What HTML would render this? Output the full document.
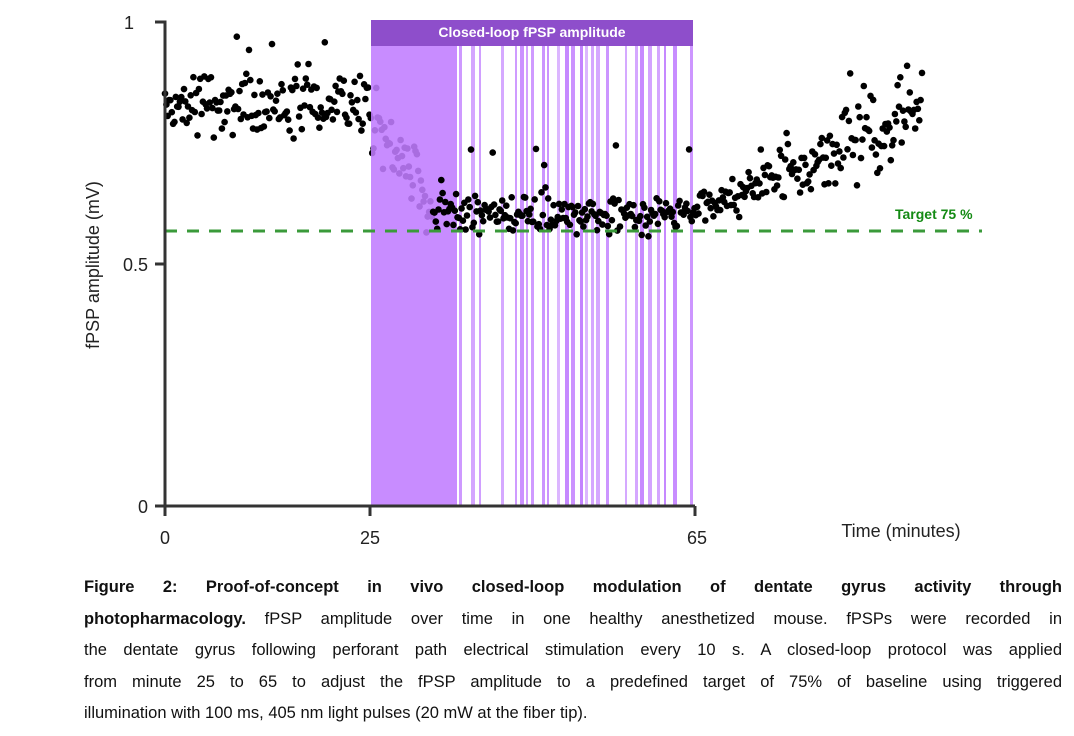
<!DOCTYPE html>
<html><head><meta charset="utf-8"><style>
body{margin:0;background:#fff;width:1074px;height:736px;overflow:hidden;position:relative;font-family:"Liberation Sans",sans-serif}
.cap{position:absolute;left:84px;width:978px;font-size:16.5px;color:#111}
.cap div{height:31.5px;line-height:31.5px;text-align:justify;text-align-last:justify;white-space:nowrap}
.cap div.l{text-align-last:left}
</style></head><body>
<svg id="s" width="1074" height="560" style="position:absolute;left:0;top:0" font-family="Liberation Sans, sans-serif"></svg>
<div class="cap" style="top:572px">
<div style="white-space:normal"><b>Figure 2: Proof-of-concept in vivo closed-loop modulation of dentate gyrus activity through</b></div>
<div><b>photopharmacology.</b> fPSP amplitude over time in one healthy anesthetized mouse. fPSPs were recorded in</div>
<div>the dentate gyrus following perforant path electrical stimulation every 10 s. A closed-loop protocol was applied</div>
<div>from minute 25 to 65 to adjust the fPSP amplitude to a predefined target of 75% of baseline using triggered</div>
<div class="l">illumination with 100 ms, 405 nm light pulses (20 mW at the fiber tip).</div>
</div>
<script>
var s=document.getElementById('s'),h='';
var seed=7;function r(){seed=(seed*16807)%2147483647;return seed/2147483647;}
function g(){return (r()+r()+r()-1.5)*1.2;}
function X(t){return 165+t*8.125;}
var pre='',post='';
for(var i=0;i<560;i++){var t=i/6,y;
 if(t<25)y=102+g()*24+(r()<0.03?-30:0);
 else if(t<33)y=115+(t-25)*11+g()*28;
 else if(t<65)y=215+g()*14+(r()<0.1?-70*r():0);
 else y=208-(t-65)*3.2+g()*(14+(t-65)*0.8)+(r()<0.05?-45:0);
 var c='<circle cx="'+X(t).toFixed(1)+'" cy="'+y.toFixed(1)+'" r="3.3" fill="#000"/>';
 if(t<33)pre+=c;else post+=c;}
h+=pre;
h+='<rect x="371" y="46" width="86" height="460" fill="#c07cff" opacity="0.88"/>';
var x=459;
while(x<690){var w=2+Math.floor(r()*3);h+='<rect x="'+x+'" y="46" width="'+w+'" height="460" fill="#c07cff" opacity="'+(0.55+r()*0.4).toFixed(2)+'"/>';x+=w+2+Math.floor(r()*r()*20);}
h+='<rect x="690" y="46" width="3" height="460" fill="#c07cff" opacity="0.8"/>';
h+='<rect x="371" y="20" width="322" height="26" fill="#8e4ecb"/>';
h+='<text x="532" y="37" fill="#fff" font-size="14" font-weight="bold" text-anchor="middle">Closed-loop fPSP amplitude</text>';
h+=post;
h+='<line x1="165" y1="231" x2="982" y2="231" stroke="#3a9a3a" stroke-width="3" stroke-dasharray="12,10"/>';
h+='<text x="895" y="219" fill="#138a13" font-size="14" font-weight="bold">Target 75 %</text>';
h+='<path d="M155 22H165V506M155 264H165M155 506H695M165 506V516M370 506V516M695 506V516" stroke="#333" stroke-width="3" fill="none"/>';
h+='<g font-size="18" fill="#222"><text x="134" y="29" text-anchor="end">1</text><text x="148" y="271" text-anchor="end">0.5</text><text x="148" y="513" text-anchor="end">0</text>';
h+='<text x="165" y="544" text-anchor="middle">0</text><text x="370" y="544" text-anchor="middle">25</text><text x="697" y="544" text-anchor="middle">65</text>';
h+='<text x="901" y="537" text-anchor="middle">Time (minutes)</text>';
h+='<text transform="translate(99,265) rotate(-90)" text-anchor="middle">fPSP amplitude (mV)</text></g>';
s.innerHTML=h;
</script>
</body></html>
